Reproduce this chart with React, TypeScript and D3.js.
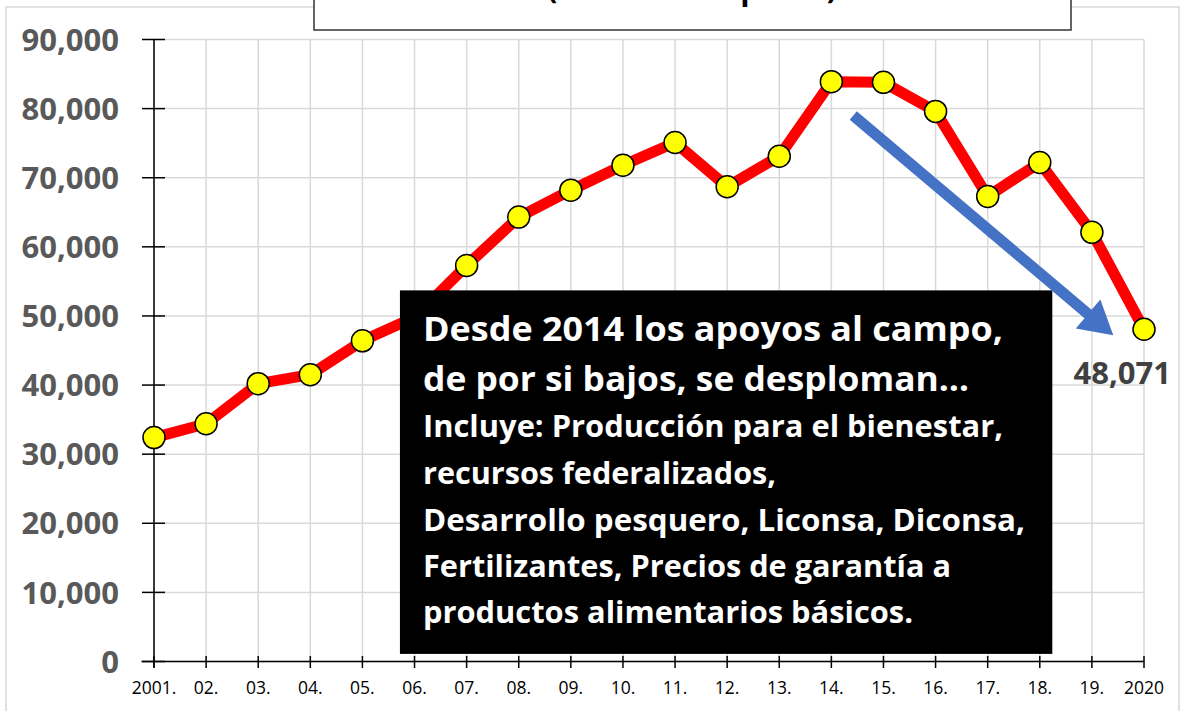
import React from "react";
import { scaleLinear, range, line } from "d3";

// año y monto (millones de pesos)
const yearLabels = ["2001.", "02.", "03.", "04.", "05.", "06.", "07.", "08.", "09.", "10.",
  "11.", "12.", "13.", "14.", "15.", "16.", "17.", "18.", "19.", "2020"];
const values = [32400, 34400, 40200, 41500, 46400, 49800, 57300, 64300, 68200, 71800,
  75100, 68700, 73100, 83900, 83800, 79600, 67300, 72200, 62100, 48071];
const yTicks = range(0, 90001, 10000);

const titleText = "(millones de pesos)";
const noteBig = ["Desde 2014 los apoyos al campo,", "de por si bajos, se desploman…"];
const noteSmall = [
  "Incluye: Producción para el bienestar,",
  "recursos federalizados,",
  "Desarrollo pesquero, Liconsa, Diconsa,",
  "Fertilizantes, Precios de garantía a",
  "productos alimentarios básicos.",
];
const lastLabel = "48,071";

const W = 1180;
const H = 711;
const font = "'Open Sans', 'Noto Sans', sans-serif";

export default function App() {
  const x = scaleLinear().domain([0, values.length - 1]).range([154, 1144]);
  const y = scaleLinear().domain([0, 90000]).range([661.5, 39.5]);

  const path = line<number>()
    .x((d, i) => x(i))
    .y((d) => y(d))(values);

  // flecha azul (inicio / fin en coordenadas de datos)
  const ax0 = x(13.42), ay0 = y(79000);
  const ax1 = x(18.41), ay1 = y(47200);
  const ang = Math.atan2(ay1 - ay0, ax1 - ax0);
  const len = Math.hypot(ax1 - ax0, ay1 - ay0);
  const shaft = 5.5, head = 19, headLen = 33;
  const pts = [
    [0, -shaft], [len - headLen, -shaft], [len - headLen, -head], [len, 0],
    [len - headLen, head], [len - headLen, shaft], [0, shaft],
  ].map(([u, v]) => [
    ax0 + u * Math.cos(ang) - v * Math.sin(ang),
    ay0 + u * Math.sin(ang) + v * Math.cos(ang),
  ].join(",")).join(" ");

  // caja negra de la nota
  const bx0 = x(4.72), bx1 = x(17.24);
  const by0 = y(53700), by1 = y(1100);
  const bigLen = [580, 546];
  const smallLen = [580, 353, 602, 528, 490];
  const bigBase = [341, 391];
  const smallBase = [437, 484, 531, 577, 623];

  return (
    <svg width={W} height={H} style={{ position: "absolute", left: 0, top: 0, background: "#fff" }}>
      <rect x={6} y={7} width={1173} height={720} fill="none" stroke="#d9d9d9" strokeWidth={1.5} />

      {/* grid */}
      {yTicks.map((t) => (
        <line key={"h" + t} x1={154} x2={1144} y1={y(t)} y2={y(t)} stroke="#d9d9d9" strokeWidth={1.5} />
      ))}
      {values.map((v, i) => (
        <line key={"v" + i} x1={x(i)} x2={x(i)} y1={y(90000)} y2={y(0)} stroke="#d9d9d9" strokeWidth={1.5} />
      ))}

      {/* axes */}
      <line x1={154} x2={154} y1={y(90000)} y2={y(0) + 6} stroke="#000" strokeWidth={1.5} />
      <line x1={141.5} x2={1144} y1={y(0)} y2={y(0)} stroke="#000" strokeWidth={1.5} />
      {yTicks.map((t) => (
        <g key={"yt" + t}>
          <line x1={142} x2={165} y1={y(t)} y2={y(t)} stroke="#000" strokeWidth={1.5} />
          <text x={119} y={y(t)} dy="0.36em" textAnchor="end" fontFamily={font} fontWeight={700}
            fontSize={31} fill="#595959">{t.toLocaleString("en-US")}</text>
        </g>
      ))}
      {yearLabels.map((l, i) => (
        <g key={"xt" + i}>
          <line x1={x(i)} x2={x(i)} y1={y(0) - 5.5} y2={y(0) + 6.5} stroke="#000" strokeWidth={1.5} />
          <text x={x(i)} y={694} textAnchor="middle" fontFamily={font} fontSize={17.5} fill="#000">{l}</text>
        </g>
      ))}

      {/* serie */}
      <path d={path ?? ""} fill="none" stroke="#ff0000" strokeWidth={11} strokeLinejoin="round" />
      {values.map((v, i) => (
        <circle key={"p" + i} cx={x(i)} cy={y(v)} r={11} fill="#ffff00" stroke="#000" strokeWidth={1.5} />
      ))}

      {/* título */}
      <rect x={314} y={-60} width={757} height={90} fill="#fff" stroke="#333" strokeWidth={1.5} />
      <text x={692} y={-2} textAnchor="middle" fontFamily={font} fontWeight={700} fontSize={36}
        textLength={290} lengthAdjust="spacingAndGlyphs" fill="#000">{titleText}</text>

      {/* nota */}
      <rect x={bx0} y={by0} width={bx1 - bx0} height={by1 - by0} fill="#000" />
      {noteBig.map((t, i) => (
        <text key={"nb" + i} x={423} y={bigBase[i]} fontFamily={font} fontWeight={700} fontSize={34}
          textLength={bigLen[i]} lengthAdjust="spacingAndGlyphs" fill="#fff">{t}</text>
      ))}
      {noteSmall.map((t, i) => (
        <text key={"ns" + i} x={423} y={smallBase[i]} fontFamily={font} fontWeight={700} fontSize={29.5}
          textLength={smallLen[i]} lengthAdjust="spacingAndGlyphs" fill="#fff">{t}</text>
      ))}

      {/* flecha */}
      <polygon points={pts} fill="#4472c4" />

      <text x={1171} y={y(values[values.length - 1]) + 55} textAnchor="end" fontFamily={font}
        fontWeight={700} fontSize={31} fill="#404040">{lastLabel}</text>
    </svg>
  );
}
